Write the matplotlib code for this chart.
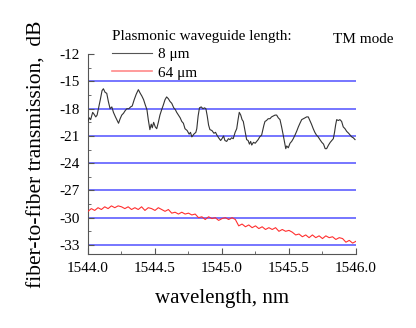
import matplotlib
matplotlib.use("Agg")

import matplotlib.pyplot as plt
from matplotlib.ticker import MultipleLocator, AutoMinorLocator

plt.rcParams["font.family"] = ["Liberation Serif", "DejaVu Serif"]
plt.rcParams["axes.unicode_minus"] = False

# 8 um waveguide
wl_8 = [
    1544.000, 1544.010, 1544.020, 1544.035, 1544.045, 1544.058, 1544.068, 1544.078,
    1544.092, 1544.105, 1544.115, 1544.128, 1544.140, 1544.152, 1544.165, 1544.178,
    1544.190, 1544.205, 1544.218, 1544.228, 1544.240, 1544.252, 1544.265, 1544.278,
    1544.290, 1544.305, 1544.318, 1544.330, 1544.345, 1544.360, 1544.376, 1544.390,
    1544.402, 1544.415, 1544.428, 1544.440, 1544.450, 1544.462, 1544.472, 1544.480,
    1544.490, 1544.502, 1544.513, 1544.525, 1544.537, 1544.550, 1544.562, 1544.575,
    1544.587, 1544.600, 1544.612, 1544.625, 1544.640, 1544.652, 1544.662, 1544.675,
    1544.688, 1544.700, 1544.712, 1544.724, 1544.740, 1544.755, 1544.765, 1544.775,
    1544.790, 1544.805, 1544.812, 1544.822, 1544.832, 1544.845, 1544.858, 1544.870,
    1544.880, 1544.890, 1544.900, 1544.910, 1544.925, 1544.940, 1544.952, 1544.962,
    1544.975, 1544.990,
    1545.000, 1545.012, 1545.022, 1545.035, 1545.048, 1545.060, 1545.072, 1545.084,
    1545.098, 1545.110, 1545.120, 1545.129, 1545.140, 1545.150, 1545.159, 1545.170,
    1545.184, 1545.195, 1545.205, 1545.214, 1545.222, 1545.235, 1545.248, 1545.259,
    1545.270, 1545.282, 1545.296, 1545.305, 1545.313, 1545.321, 1545.332, 1545.345,
    1545.358, 1545.370, 1545.383, 1545.396, 1545.408, 1545.420, 1545.433, 1545.445,
    1545.457, 1545.468, 1545.476, 1545.483, 1545.495, 1545.508, 1545.520, 1545.532,
    1545.545, 1545.557, 1545.570, 1545.582, 1545.595, 1545.608, 1545.620, 1545.632,
    1545.644, 1545.656, 1545.668, 1545.681, 1545.693, 1545.705, 1545.718, 1545.731,
    1545.745, 1545.758, 1545.770, 1545.781, 1545.795, 1545.808, 1545.820, 1545.831,
    1545.840, 1545.848, 1545.856, 1545.868, 1545.880, 1545.893, 1545.905, 1545.918,
    1545.931, 1545.945, 1545.956, 1545.968, 1545.980, 1545.993,
]
tr_8 = [
    -19.4, -19.0, -19.2, -18.4, -18.6, -18.9, -18.7, -18.0,
    -17.0, -16.0, -15.8, -16.2, -16.3, -17.2, -18.0, -17.8,
    -18.4, -18.9, -19.3, -19.6, -19.1, -18.7, -18.5, -18.2,
    -18.0, -18.0, -17.8, -17.7, -17.0, -16.4, -15.9, -16.3,
    -16.6, -17.0, -17.6, -18.1, -19.2, -20.3, -19.7, -20.1,
    -19.5, -20.0, -20.2, -19.5, -18.7, -18.1, -17.6, -17.0,
    -16.7, -16.9, -17.2, -17.4, -17.9, -18.1, -18.4, -18.7,
    -19.0, -19.4, -19.6, -20.2, -20.4, -20.8, -20.6, -21.1,
    -20.8, -20.6, -20.2, -18.8, -17.9, -17.8, -18.0, -17.9,
    -18.0, -18.8, -19.8, -20.3, -20.4, -20.7, -20.6, -20.9,
    -21.2, -21.5,
    -21.3, -21.0, -21.5, -21.6, -21.3, -21.4, -21.2, -21.3,
    -20.6, -20.2, -19.2, -18.4, -18.7, -19.2, -19.4, -20.3,
    -21.4, -21.5, -21.9, -21.6, -22.0, -21.7, -21.8, -21.6,
    -21.4, -21.1, -20.9, -20.3, -19.8, -19.4, -19.3, -19.1,
    -19.1, -18.9, -18.8, -18.7, -18.7, -19.0, -19.2, -20.0,
    -20.9, -21.8, -22.4, -22.1, -22.3, -21.8, -21.6, -21.3,
    -20.9, -20.5, -20.0, -19.6, -19.2, -19.1, -19.0, -18.9,
    -18.9, -19.3, -19.7, -20.2, -20.6, -20.9, -21.1, -21.4,
    -21.7, -21.9, -22.4, -22.4, -22.0, -21.7, -21.5, -21.3,
    -20.6, -19.8, -19.2, -19.3, -19.2, -19.4, -20.0, -20.2,
    -20.5, -20.7, -20.9, -21.1, -21.2, -21.4,
]

# 64 um waveguide, sampled every 0.025 nm
wl_64 = [1544.0 + 0.025 * i for i in range(81)]
tr_64 = [
    -29.3, -29.0, -29.2, -28.9, -29.1, -28.8, -29.0, -28.7, -28.9, -28.7,
    -28.8, -29.0, -28.8, -29.1, -28.9, -29.1, -28.8, -29.2, -28.9, -29.0,
    -29.2, -28.9, -29.1, -29.3, -29.1, -29.5, -29.4, -29.6, -29.4, -29.6,
    -29.5, -29.7, -29.6, -30.0, -29.9, -30.2, -29.9, -30.1, -30.0, -30.3,
    -30.1, -30.0, -30.2, -30.0, -30.2, -30.9, -30.7, -31.0, -30.8, -31.1,
    -30.9, -31.2, -31.0, -31.3, -31.1, -31.3, -31.1, -31.5, -31.3, -31.5,
    -31.4, -31.6, -31.9, -31.8, -32.1, -31.9, -32.2, -31.9, -32.2, -32.0,
    -32.3, -32.0, -32.2, -32.1, -32.4, -32.2, -32.3, -32.7, -32.5, -32.8,
    -32.6,
]

y_grid = [-15, -18, -21, -24, -27, -30, -33]

fig = plt.figure(figsize=(4.16, 3.28), dpi=100)
ax = fig.add_axes([0.2115, 0.2256, 0.6442, 0.609])

for g in y_grid:
    ax.axhline(g, color="#6b6bff", lw=1.3, zorder=1)

l8, = ax.plot(wl_8, tr_8, color="#333333", lw=0.8, zorder=3)
l64, = ax.plot(wl_64, tr_64, color="#ff3030", lw=0.8, zorder=3)

ax.set_xlim(1544.0, 1546.0)
ax.set_ylim(-34, -12)
ax.xaxis.set_major_locator(MultipleLocator(0.5))
ax.xaxis.set_minor_locator(AutoMinorLocator(2))
ax.yaxis.set_major_locator(MultipleLocator(3))
ax.yaxis.set_minor_locator(AutoMinorLocator(2))
ax.xaxis.set_major_formatter(plt.FormatStrFormatter("%.1f"))
ax.set_yticks([-12, -15, -18, -21, -24, -27, -30, -33])
ax.tick_params(which="both", direction="in", labelsize=11, color="#555555")
ax.tick_params(which="major", length=4, pad=6)
ax.tick_params(which="minor", length=2)
for s in ["top", "right"]:
    ax.spines[s].set_visible(False)
for s in ["left", "bottom"]:
    ax.spines[s].set_color("#555555")

ax.set_xlabel("wavelength, nm", fontsize=15, labelpad=10)
ax.set_ylabel("fiber-to-fiber transmission,  dB", fontsize=15.5, labelpad=9)

leg = ax.legend([l8, l64], ["8 \u03bcm", "64 \u03bcm"], loc="upper left",
                bbox_to_anchor=(0.04, 1.19), frameon=False, fontsize=11,
                handlelength=2.6, handletextpad=0.4, labelspacing=0.3,
                title="Plasmonic waveguide length:", title_fontsize=11)
leg._legend_box.align = "left"
leg.legend_handles[0].set_color("#555555")
leg.legend_handles[1].set_color("#ff8a8a")
leg.legend_handles[1].set_linewidth(1.2)

fig.text(0.80, 0.87, "TM mode", fontsize=11)

fig.savefig("out.png", dpi=100)
